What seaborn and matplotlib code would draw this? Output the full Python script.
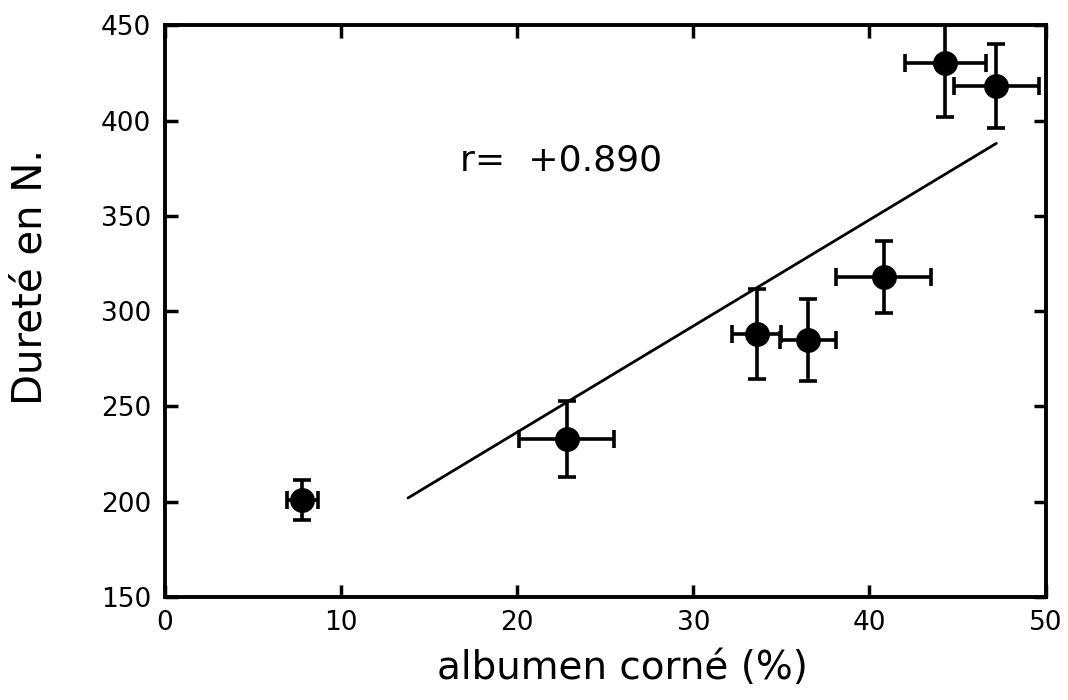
import matplotlib
matplotlib.use("Agg")
import matplotlib.pyplot as plt
import seaborn as sns
import pandas as pd

# Data
albumen = [7.8, 22.8, 33.6, 36.5, 40.8, 44.3, 47.2]
durete = [201, 233, 288, 285, 318, 430, 418]
xerr = [0.9, 2.7, 1.4, 1.6, 2.7, 2.3, 2.4]
yerr = [10.5, 20, 23.5, 21.5, 19, 28, 22]
fit_x = [13.8, 47.2]
fit_y = [202, 388]
x_ticks = [0, 10, 20, 30, 40, 50]
y_ticks = [150, 200, 250, 300, 350, 400, 450]

sns.set_style("ticks")
plt.rcParams['font.family'] = ['DejaVu Sans']
plt.rcParams['text.color'] = 'black'
plt.rcParams['axes.labelcolor'] = 'black'

fig = plt.figure(figsize=(10.68, 7.0), dpi=100)
ax = fig.add_axes([0.1545, 0.147, 0.8245, 0.817])

df = pd.DataFrame({"x": albumen, "y": durete})
fit = pd.DataFrame({"x": fit_x, "y": fit_y})

sns.lineplot(data=fit, x="x", y="y", ax=ax, color="black", linewidth=2.0)
ax.errorbar(albumen, durete, xerr=xerr, yerr=yerr, fmt="none", ecolor="black",
            elinewidth=2.6, capsize=6.5, capthick=2.6, zorder=3)
sns.scatterplot(data=df, x="x", y="y", ax=ax, color="black", s=320,
                edgecolor="black", linewidth=0, zorder=4)

ax.text(22.5, 379, "r=  +0.890", fontsize=26, ha="center", va="center",
        color="black")

ax.set_xlim(0, 50)
ax.set_ylim(150, 450)
ax.set_xticks(x_ticks)
ax.set_yticks(y_ticks)
ax.tick_params(direction="in", length=9, width=2.5, top=True, right=True,
               labelsize=19, colors="black")
ax.tick_params(axis="y", pad=10)
ax.tick_params(axis="x", pad=9)
for s in ax.spines.values():
    s.set_linewidth(2.8)
    s.set_color("black")
ax.set_xlabel("albumen corné (%)", fontsize=28)
ax.set_ylabel("Dureté en N.", fontsize=29)
ax.xaxis.set_label_coords(0.52, -0.09)
ax.yaxis.set_label_coords(-0.13, 0.56)

fig.savefig("out.png", dpi=100)
